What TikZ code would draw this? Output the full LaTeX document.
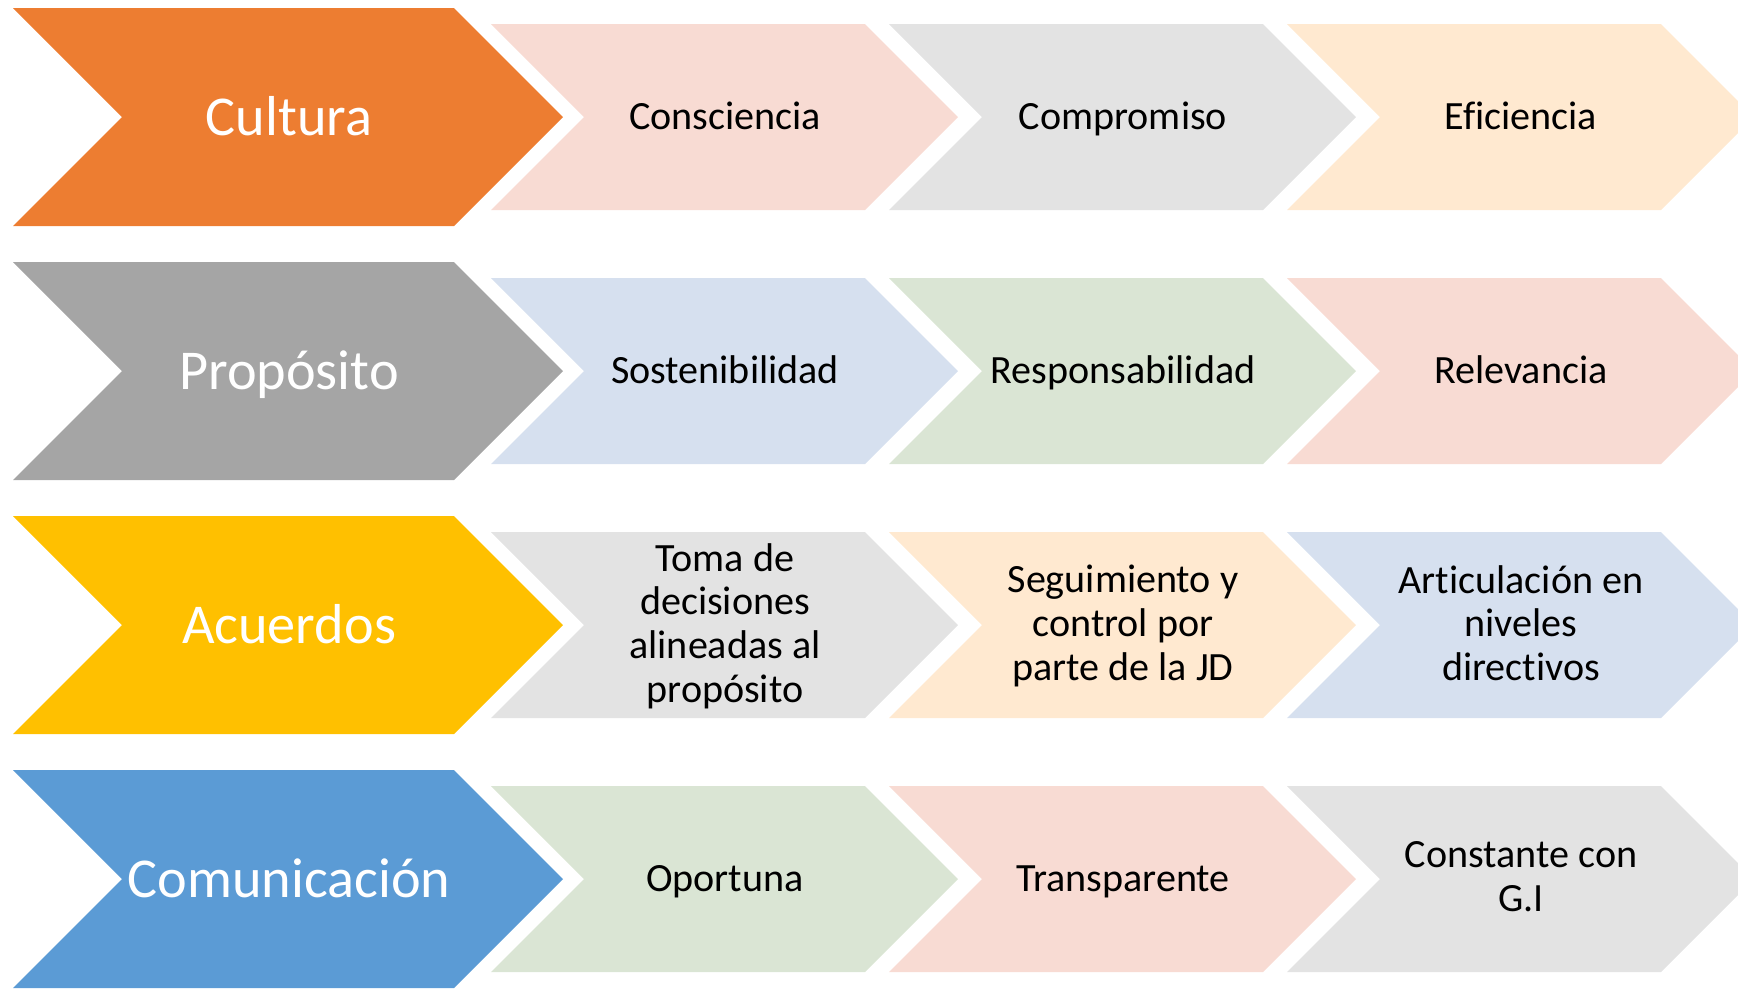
\documentclass[tikz,border=0pt]{standalone}
\usepackage{fontspec}
\setmainfont{Carlito}[Ligatures=NoCommon]
\usepackage{xcolor}
\usepackage{tikz}

\definecolor{naranja}{HTML}{ED7D31}
\definecolor{gris}{HTML}{A5A5A5}
\definecolor{oro}{HTML}{FFC000}
\definecolor{azul}{HTML}{5B9BD5}
\definecolor{rosa}{HTML}{F8DBD3}
\definecolor{grisclaro}{HTML}{E3E3E3}
\definecolor{durazno}{HTML}{FFE9D0}
\definecolor{azulclaro}{HTML}{D6E0EF}
\definecolor{verdeclaro}{HTML}{DAE5D4}

\begin{document}
\begin{tikzpicture}[x=0.01cm, y=-0.01cm,
  grande/.style={text=white, yshift=-1.3pt, font=\fontsize{16}{19.2}\selectfont,
    execute at begin node=\strut, execute at end node=\strut},
  chica/.style={text=black, align=center, yshift=-1.2pt, font=\fontsize{11.4}{12.4}\selectfont,
    execute at begin node=\strut, execute at end node=\strut}]
\useasboundingbox (0,0) rectangle (1738,990);

% fila 1
\fill[naranja] (13,8)--++(441,0)--++(109,109)--++(-109,109)--++(-441,0)--++(109,-109)--cycle;
\fill[rosa] (491,24)--++(374,0)--++(93,93)--++(-93,93)--++(-374,0)--++(93,-93)--cycle;
\fill[grisclaro] (889,24)--++(374,0)--++(93,93)--++(-93,93)--++(-374,0)--++(93,-93)--cycle;
\fill[durazno] (1287,24)--++(374,0)--++(93,93)--++(-93,93)--++(-374,0)--++(93,-93)--cycle;
\node[grande] (cultura) at (289,117) {Cultura};
\node[chica] (consciencia) at (725,117) {Consciencia};
\node[chica] (compromiso) at (1123,117) {Compromiso};
\node[chica] (eficiencia) at (1521,117) {Eficiencia};

% fila 2
\begin{scope}[shift={(0,254)}]
\fill[gris] (13,8)--++(441,0)--++(109,109)--++(-109,109)--++(-441,0)--++(109,-109)--cycle;
\fill[azulclaro] (491,24)--++(374,0)--++(93,93)--++(-93,93)--++(-374,0)--++(93,-93)--cycle;
\fill[verdeclaro] (889,24)--++(374,0)--++(93,93)--++(-93,93)--++(-374,0)--++(93,-93)--cycle;
\fill[rosa] (1287,24)--++(374,0)--++(93,93)--++(-93,93)--++(-374,0)--++(93,-93)--cycle;
\node[grande] (proposito) at (289,117) {Propósito};
\node[chica] (sostenibilidad) at (725,117) {Sostenibilidad};
\node[chica] (responsabilidad) at (1123,117) {Responsabilidad};
\node[chica] (relevancia) at (1521,117) {Relevancia};
\end{scope}

% fila 3
\begin{scope}[shift={(0,508)}]
\fill[oro] (13,8)--++(441,0)--++(109,109)--++(-109,109)--++(-441,0)--++(109,-109)--cycle;
\fill[grisclaro] (491,24)--++(374,0)--++(93,93)--++(-93,93)--++(-374,0)--++(93,-93)--cycle;
\fill[durazno] (889,24)--++(374,0)--++(93,93)--++(-93,93)--++(-374,0)--++(93,-93)--cycle;
\fill[azulclaro] (1287,24)--++(374,0)--++(93,93)--++(-93,93)--++(-374,0)--++(93,-93)--cycle;
\node[grande] (acuerdos) at (289,117) {Acuerdos};
\node[chica] (toma) at (725,117) {Toma de\\decisiones\\alineadas al\\propósito};
\node[chica] (seguimiento) at (1123,117) {Seguimiento y\\control por\\parte de la JD};
\node[chica] (articulacion) at (1521,117) {Articulación en\\niveles\\directivos};
\end{scope}

% fila 4
\begin{scope}[shift={(0,762)}]
\fill[azul] (13,8)--++(441,0)--++(109,109)--++(-109,109)--++(-441,0)--++(109,-109)--cycle;
\fill[verdeclaro] (491,24)--++(374,0)--++(93,93)--++(-93,93)--++(-374,0)--++(93,-93)--cycle;
\fill[rosa] (889,24)--++(374,0)--++(93,93)--++(-93,93)--++(-374,0)--++(93,-93)--cycle;
\fill[grisclaro] (1287,24)--++(374,0)--++(93,93)--++(-93,93)--++(-374,0)--++(93,-93)--cycle;
\node[grande] (comunicacion) at (289,117) {Comunicación};
\node[chica] (oportuna) at (725,117) {Oportuna};
\node[chica] (transparente) at (1123,117) {Transparente};
\node[chica] (constante) at (1521,117) {Constante con\\G.I};
\end{scope}
\end{tikzpicture}
\end{document}
